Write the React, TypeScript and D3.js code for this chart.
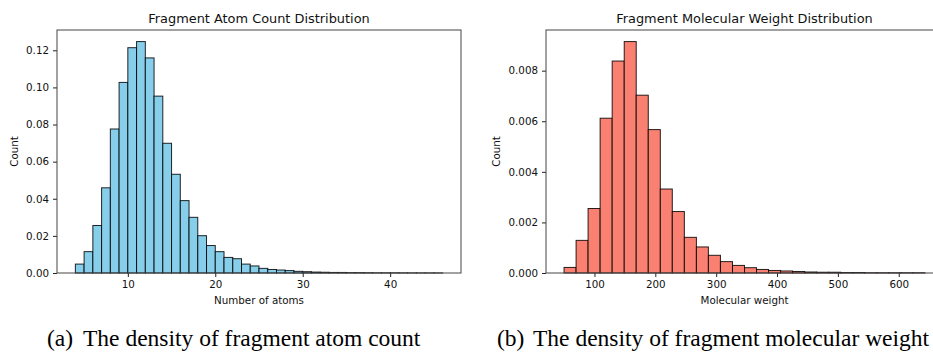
import * as d3 from "d3";
import { useEffect, useRef } from "react";

const WIDTH = 933;
const HEIGHT = 352;

// histogram of fragment atom count (bins of width 1, from 4 to 46)
const atomEdges = [
  4, 5, 6, 7, 8, 9, 10, 11, 12, 13, 14, 15, 16, 17, 18, 19, 20, 21, 22, 23, 24, 25,
  26, 27, 28, 29, 30, 31, 32, 33, 34, 35, 36, 37, 38, 39, 40, 41, 42, 43, 44, 45, 46,
];
const atomDensity = [
  0.0048, 0.0115, 0.0256, 0.0459, 0.0776, 0.1027, 0.1214, 0.1247, 0.1159, 0.0953,
  0.0699, 0.0532, 0.039, 0.03, 0.0201, 0.0148, 0.0115, 0.0084, 0.0077, 0.0048, 0.0038,
  0.0025, 0.0019, 0.0016, 0.0013, 0.0009, 0.0007, 0.0005, 0.0004, 0.0003, 0.0003,
  0.0002, 0.0002, 0.00015, 0.0001, 0.0001, 0.0001, 0.00008, 0.00006, 0.00005, 0.00004,
  0.00004,
];
const atomXTicks = [10, 20, 30, 40];
const atomYTicks = [0, 0.02, 0.04, 0.06, 0.08, 0.1, 0.12];

// histogram of fragment molecular weight (30 bins)
const mwEdges = [
  50, 69.8, 89.5, 109.3, 129.1, 148.9, 168.6, 188.4, 208.2, 227.9, 247.7, 267.5, 287.2,
  307, 326.8, 346.6, 366.3, 386.1, 405.9, 425.6, 445.4, 465.2, 484.9, 504.7, 524.5,
  544.3, 564, 583.8, 603.6, 623.3, 643.1,
];
const mwDensity = [
  0.00022, 0.00129, 0.00255, 0.00612, 0.00838, 0.00915, 0.00703, 0.00567, 0.00332,
  0.00243, 0.00141, 0.00103, 0.0007, 0.00045, 0.0003, 0.00021, 0.00014, 0.0001, 0.00008,
  0.00006, 0.00004, 0.00003, 0.00003, 0.00002, 0.00002, 0.00001, 0.00001, 0.00001,
  0.00001, 0.00001,
];
const mwXTicks = [100, 200, 300, 400, 500, 600];
const mwYTicks = [0, 0.002, 0.004, 0.006, 0.008];

const captionTexts = [
  "The density of fragment atom count",
  "The density of fragment molecular weight",
];

type Panel = {
  edges: number[];
  values: number[];
  xTicks: number[];
  yTicks: number[];
  yFormat: string;
  fill: string;
  title: string;
  xLabel: string;
  box: { left: number; right: number; top: number; bottom: number };
  yLabelX: number;
  caption: string;
  captionX: number;
};

const panels: Panel[] = [
  {
    edges: atomEdges,
    values: atomDensity,
    xTicks: atomXTicks,
    yTicks: atomYTicks,
    yFormat: ".2f",
    fill: "#87CEEB",
    title: "Fragment Atom Count Distribution",
    xLabel: "Number of atoms",
    box: { left: 57, right: 461, top: 30, bottom: 273 },
    yLabelX: 18,
    caption: "(a)",
    captionX: 47,
  },
  {
    edges: mwEdges,
    values: mwDensity,
    xTicks: mwXTicks,
    yTicks: mwYTicks,
    yFormat: ".3f",
    fill: "#FA8072",
    title: "Fragment Molecular Weight Distribution",
    xLabel: "Molecular weight",
    box: { left: 546, right: 943, top: 30, bottom: 273 },
    yLabelX: 500,
    caption: "(b)",
    captionX: 497,
  },
];

function drawPanel(svg: d3.Selection<SVGSVGElement, unknown, null, undefined>, p: Panel, i: number) {
  const { box } = p;
  const lo = p.edges[0];
  const hi = p.edges[p.edges.length - 1];
  const pad = (hi - lo) * 0.05;
  const ymax = d3.max(p.values)! * 1.05;

  const x = d3.scaleLinear().domain([lo - pad, hi + pad]).range([box.left, box.right]);
  const y = d3.scaleLinear().domain([0, ymax]).range([box.bottom, box.top]);

  const g = svg.append("g");

  g.selectAll("rect")
    .data(p.values)
    .join("rect")
    .attr("x", (_, j) => x(p.edges[j]))
    .attr("y", (d) => y(d))
    .attr("width", (_, j) => x(p.edges[j + 1]) - x(p.edges[j]))
    .attr("height", (d) => y(0) - y(d))
    .attr("fill", p.fill)
    .attr("stroke", "#000")
    .attr("stroke-opacity", 0.85)
    .attr("stroke-width", 1);

  const xAxis = g
    .append("g")
    .attr("transform", `translate(0, ${box.bottom})`)
    .call(d3.axisBottom(x).tickValues(p.xTicks).tickSize(4).tickPadding(4).tickFormat(d3.format("d")));
  const yAxis = g
    .append("g")
    .attr("transform", `translate(${box.left}, 0)`)
    .call(d3.axisLeft(y).tickValues(p.yTicks).tickSize(4).tickPadding(4).tickFormat(d3.format(p.yFormat)));

  [xAxis, yAxis].forEach((a) => {
    a.select(".domain").remove();
    a.selectAll("line").attr("stroke", "#222");
    a.selectAll("text")
      .attr("fill", "#111")
      .style("font-family", "DejaVu Sans")
      .style("font-size", "10.3px");
  });

  // spines
  g.append("rect")
    .attr("x", box.left)
    .attr("y", box.top)
    .attr("width", box.right - box.left)
    .attr("height", box.bottom - box.top)
    .attr("fill", "none")
    .attr("stroke", "#444")
    .attr("stroke-width", 1);

  const cx = (box.left + box.right) / 2;

  g.append("text")
    .attr("x", cx)
    .attr("y", 23)
    .attr("text-anchor", "middle")
    .style("font-family", "DejaVu Sans")
    .style("font-size", "12.9px")
    .attr("fill", "#111")
    .text(p.title);

  g.append("text")
    .attr("x", cx)
    .attr("y", 304)
    .attr("text-anchor", "middle")
    .style("font-family", "DejaVu Sans")
    .style("font-size", "10.3px")
    .attr("fill", "#111")
    .text(p.xLabel);

  g.append("text")
    .attr("transform", `translate(${p.yLabelX}, ${(box.top + box.bottom) / 2}) rotate(-90)`)
    .attr("text-anchor", "middle")
    .style("font-family", "DejaVu Sans")
    .style("font-size", "10.3px")
    .attr("fill", "#111")
    .text("Count");

  const cap = g
    .append("text")
    .attr("y", 346)
    .style("font-family", "Liberation Serif")
    .style("font-size", "23.5px")
    .attr("fill", "#000");
  cap.append("tspan").attr("x", p.captionX).text(p.caption);
  cap.append("tspan").attr("x", p.captionX + 36).text(captionTexts[i]);
}

export default function App() {
  const ref = useRef<SVGSVGElement>(null);

  useEffect(() => {
    const svg = d3.select(ref.current!);
    svg.selectAll("*").remove();
    panels.forEach((p, i) => drawPanel(svg, p, i));
  }, []);

  return (
    <svg
      ref={ref}
      width={WIDTH}
      height={HEIGHT}
      style={{ position: "absolute", left: 0, top: 0, background: "#fff" }}
    />
  );
}
